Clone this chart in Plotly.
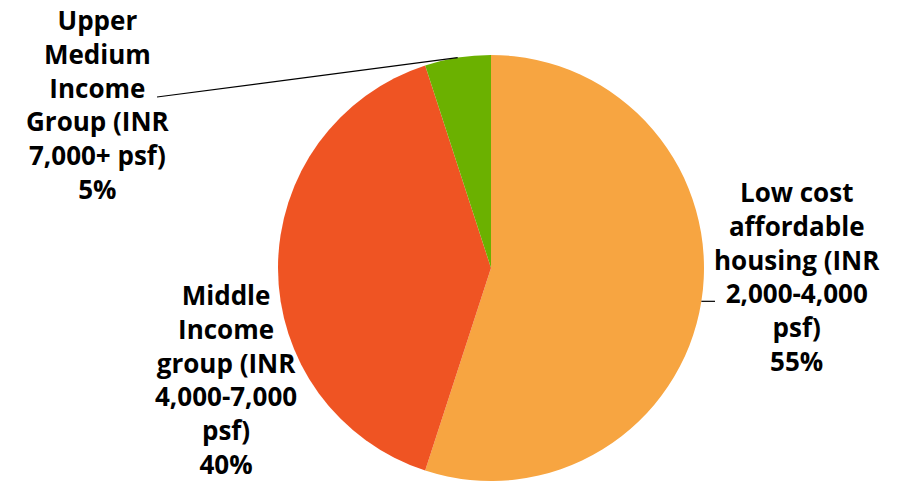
import math
import plotly.graph_objects as go

categories = [
    "Low cost affordable housing (INR 2,000-4,000 psf)",
    "Middle Income group (INR 4,000-7,000 psf)",
    "Upper Medium Income Group (INR 7,000+ psf)",
]
values = [55, 40, 5]
label_lines = [
    ["Low cost", "affordable", "housing (INR", "2,000-4,000", "psf)"],
    ["Middle", "Income", "group (INR", "4,000-7,000", "psf)"],
    ["Upper", "Medium", "Income", "Group (INR", "7,000+ psf)"],
]
colors = ["#F7A541", "#EF5423", "#6BB100"]

W, H = 902, 482
cx, cy, R = 491, 268, 213

fig = go.Figure(go.Pie(
    labels=categories, values=values, sort=False, direction="clockwise",
    rotation=0, marker=dict(colors=colors, line=dict(width=0)),
    textinfo="none", hoverinfo="label+percent", showlegend=False,
    domain=dict(x=[(cx - R) / W, (cx + R) / W],
                y=[(H - cy - R) / H, (H - cy + R) / H]),
))

# label block centres (px)
label_pos = [(797, 276), (226, 379), (98, 104)]
font = dict(family="Open Sans, sans-serif", size=26, color="#000000")
total = sum(values)
for lines, v, (lx, ly) in zip(label_lines, values, label_pos):
    pct = f"{round(100 * v / total)}%"
    fig.add_annotation(
        x=lx / W, y=1 - ly / H, xref="paper", yref="paper",
        text="<b>" + "<br>".join(lines + [pct]) + "</b>",
        showarrow=False, xanchor="center", yanchor="middle", align="center",
        font=font, borderpad=0,
    )

# leader lines from slice mid-angles
cum = 0
mids = []
for v in values:
    mids.append((cum + v / 2) / total * 2 * math.pi)
    cum += v
def edge(a):
    return cx + R * math.sin(a), cy - R * math.cos(a)

ex, ey = edge(mids[0])
fig.add_shape(type="line", xref="paper", yref="paper",
              x0=ex / W, y0=1 - ey / H, x1=715 / W, y1=1 - ey / H,
              line=dict(color="#000000", width=1.2))
ex, ey = edge(mids[2])
fig.add_shape(type="line", xref="paper", yref="paper",
              x0=157 / W, y0=1 - 97 / H, x1=ex / W, y1=1 - ey / H,
              line=dict(color="#000000", width=1.2))

fig.update_layout(width=W, height=H, margin=dict(l=0, r=0, t=0, b=0),
                  paper_bgcolor="white", plot_bgcolor="white")
fig.write_html("out.html", config={"displayModeBar": False},
               post_script="document.body.style.margin='0';")
